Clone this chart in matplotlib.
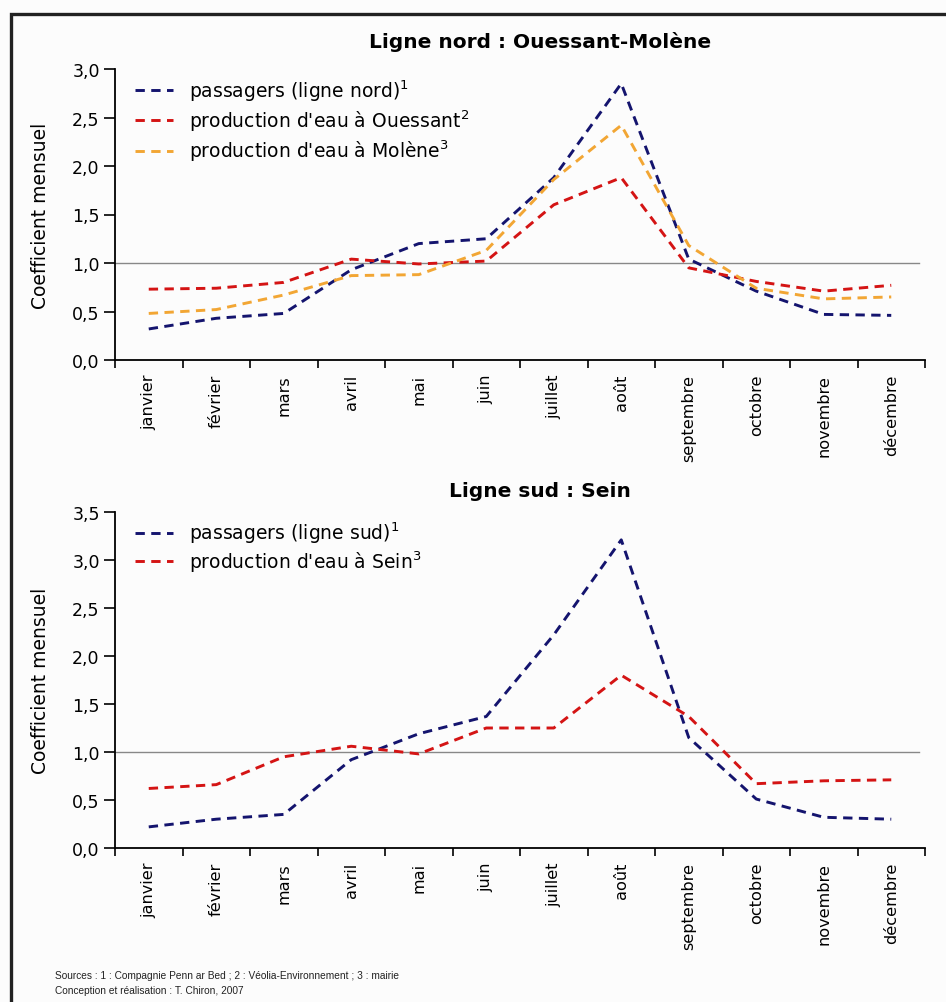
import matplotlib
matplotlib.use("Agg")
import matplotlib.pyplot as plt
from matplotlib.patches import Rectangle

plt.rcParams['font.family'] = ['DejaVu Sans']
plt.rcParams['mathtext.fontset'] = 'dejavusans'

# Données
mois = ['janvier', 'février', 'mars', 'avril', 'mai', 'juin', 'juillet',
        'août', 'septembre', 'octobre', 'novembre', 'décembre']

# Ligne nord
passagers_nord = [0.32, 0.43, 0.48, 0.93, 1.20, 1.25, 1.88, 2.85, 1.04, 0.71, 0.47, 0.46]
eau_ouessant = [0.73, 0.74, 0.80, 1.04, 0.99, 1.02, 1.60, 1.88, 0.95, 0.81, 0.71, 0.77]
eau_molene = [0.48, 0.52, 0.67, 0.87, 0.88, 1.13, 1.86, 2.42, 1.18, 0.74, 0.63, 0.65]

# Ligne sud
passagers_sud = [0.22, 0.30, 0.35, 0.92, 1.19, 1.37, 2.22, 3.21, 1.15, 0.51, 0.32, 0.30]
eau_sein = [0.62, 0.66, 0.95, 1.06, 0.98, 1.25, 1.25, 1.80, 1.37, 0.67, 0.70, 0.71]

ticks_nord = [0.0, 0.5, 1.0, 1.5, 2.0, 2.5, 3.0]
ticks_sud = [0.0, 0.5, 1.0, 1.5, 2.0, 2.5, 3.0, 3.5]

bleu = '#14146e'
rouge = '#d41414'
orange = '#f2a634'

W, H = 946, 1003
fig = plt.figure(figsize=(W / 100, H / 100), dpi=100)
fig.patch.set_facecolor('#fcfcfc')

# cadre noir (bords droit et bas hors de l'image)
fig.patches.append(Rectangle((11 / W, -0.1), 1.2, 1 - 15 / H + 0.1,
                             transform=fig.transFigure, fill=False,
                             edgecolor='#222222', linewidth=2.4))


def panneau(ax, series, ticks, titre, ytitre, haut_px, espace):
    x = range(len(mois))
    for vals, couleur, label in series:
        ax.plot(x, vals, color=couleur, linestyle=(0, (3.2, 2.2)),
                linewidth=2.1, label=label)
    ax.axhline(1.0, xmax=0.993, color='#888888', linewidth=1.0, zorder=0)
    ax.set_xlim(-0.5, 11.5)
    ax.set_ylim(ticks[0], ticks[-1])
    ax.set_xticks([i - 0.5 for i in range(13)])
    ax.set_xticklabels([])
    ax.set_xticks(list(x), minor=True)
    ax.set_xticklabels(mois, minor=True, rotation=90, fontsize=11.6)
    ax.tick_params(axis='x', which='minor', length=0, pad=10)
    ax.tick_params(axis='x', which='major', length=6, width=1.2, direction='out')
    ax.set_yticks(ticks)
    ax.set_yticklabels([('%.1f' % t).replace('.', ',') for t in ticks], fontsize=12.5)
    ax.tick_params(axis='y', length=8, width=1.2, direction='out', pad=3)
    for s in ['top', 'right']:
        ax.spines[s].set_visible(False)
    for s in ['left', 'bottom']:
        ax.spines[s].set_linewidth(1.3)
    ax.set_facecolor('#fcfcfc')
    ax.set_ylabel('Coefficient mensuel', fontsize=13.5)
    ax.yaxis.set_label_coords(-0.080, 0.5)
    ax.legend(loc='upper left', bbox_to_anchor=(20 / 810, 1 - 8 / haut_px),
              frameon=False, fontsize=13.5, handlelength=2.0,
              handletextpad=0.9, labelspacing=espace, borderpad=0,
              borderaxespad=0)
    fig.text(0.571, ytitre, titre, ha='center', va='center',
             fontsize=14.5, fontweight='bold')


ax1 = fig.add_axes([115 / W, 1 - 361 / H, 810 / W, 291 / H])
panneau(ax1, [(passagers_nord, bleu, 'passagers (ligne nord)$^1$'),
              (eau_ouessant, rouge, "production d'eau à Ouessant$^2$"),
              (eau_molene, orange, "production d'eau à Molène$^3$")],
        ticks_nord, 'Ligne nord : Ouessant-Molène', 1 - 42 / H, 291, 0.26)

ax2 = fig.add_axes([115 / W, 1 - 849 / H, 810 / W, 336 / H])
panneau(ax2, [(passagers_sud, bleu, 'passagers (ligne sud)$^1$'),
              (eau_sein, rouge, "production d'eau à Sein$^3$")],
        ticks_sud, 'Ligne sud : Sein', 1 - 492 / H, 336, 0.15)

fig.text(55 / W, 1 - 976 / H,
         'Sources : 1 : Compagnie Penn ar Bed ; 2 : Véolia-Environnement ; 3 : mairie',
         fontsize=7.3, va='center', color='#222222', family='Liberation Sans')
fig.text(55 / W, 1 - 991 / H, 'Conception et réalisation : T. Chiron, 2007',
         fontsize=7.3, va='center', color='#222222', family='Liberation Sans')

fig.savefig('out.png', dpi=100, facecolor=fig.get_facecolor())
